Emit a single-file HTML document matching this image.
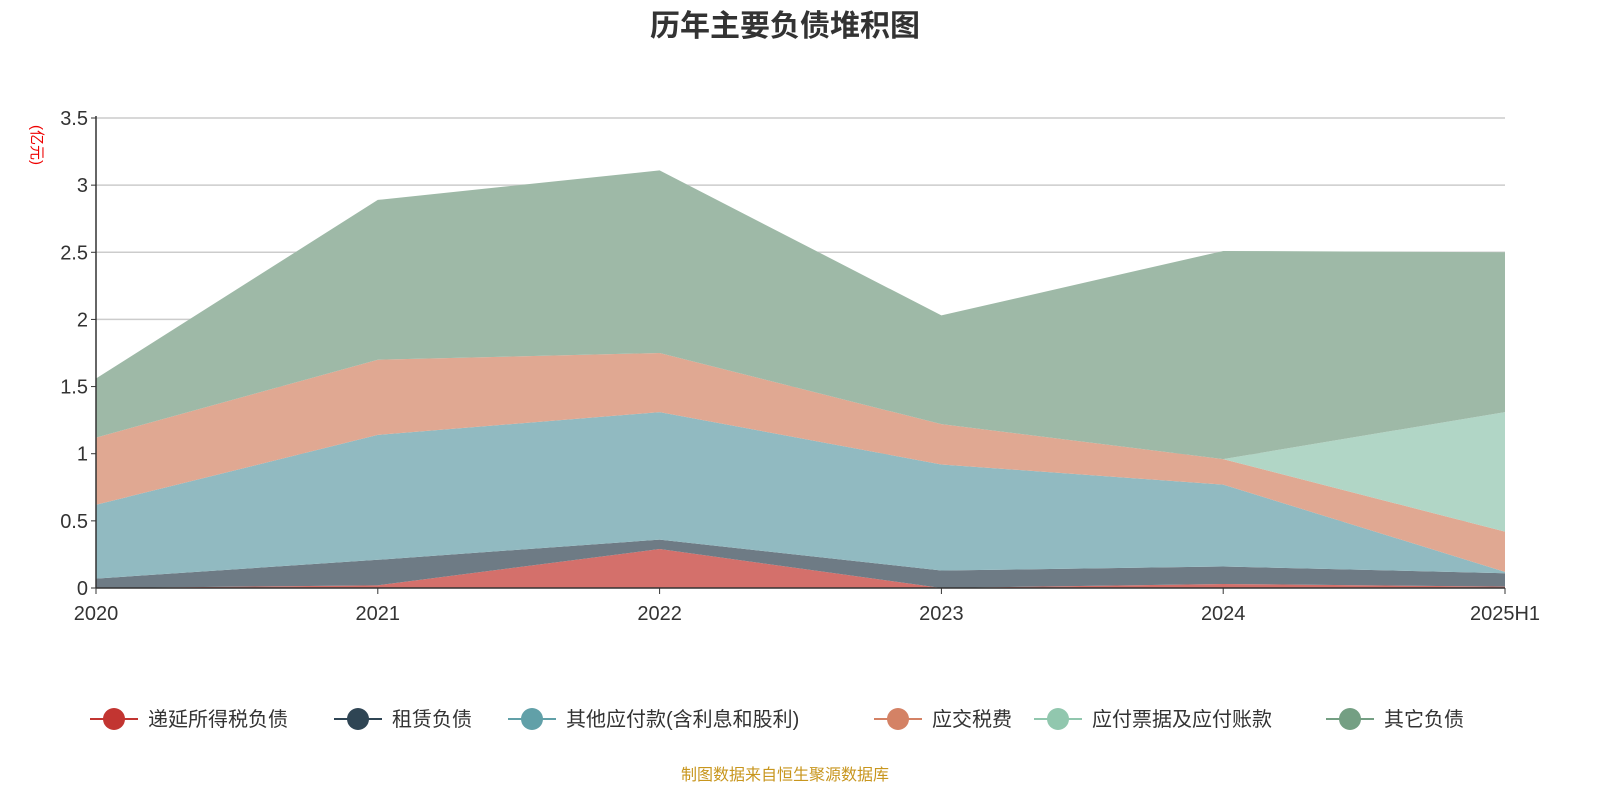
<!DOCTYPE html>
<html><head><meta charset="utf-8">
<style>
body{margin:0;background:#fff;font-family:"Liberation Sans","Noto Sans CJK SC",sans-serif;}
svg text{font-family:"Liberation Sans","Noto Sans CJK SC",sans-serif;}
</style></head>
<body>
<svg id="chart" width="1600" height="800">
<text x="785" y="36" text-anchor="middle" font-size="30" font-weight="bold" fill="#333">历年主要负债堆积图</text>
<text x="0" y="0" transform="translate(32,145) rotate(90)" text-anchor="middle" font-size="15" fill="#e00">(亿元)</text>
<g id="grid"></g><g id="areas"></g><g id="axes"></g><g id="legend"></g>
<text x="785" y="780" text-anchor="middle" font-size="16" fill="#c8961e">制图数据来自恒生聚源数据库</text>
</svg>
<script>
const categories=["2020","2021","2022","2023","2024","2025H1"];
const seriesNames=["递延所得税负债","租赁负债","其他应付款(含利息和股利)","应交税费","应付票据及应付账款","其它负债"];
const deferredTax=[0,0.02,0.29,0,0.03,0.01];
const leaseLiab=[0.07,0.19,0.07,0.13,0.13,0.10];
const otherPayables=[0.55,0.93,0.95,0.79,0.61,0.01];
const taxesPayable=[0.50,0.56,0.44,0.30,0.19,0.30];
const notesPayable=[0,0,0,0,0,0.89];
const otherLiab=[0.44,1.19,1.36,0.81,1.55,1.19];
const yTicks=[0,0.5,1,1.5,2,2.5,3,3.5];
const lineColors=["#c23531","#2f4554","#61a0a8","#d48265","#91c7ae","#749f83"];
const fillColors=["#d4706b","#6e7b85","#91bac1","#e0a892","#b1d6c6","#9eb9a7"];
const NS="http://www.w3.org/2000/svg";
const X0=96,X1=1505,Y0=588,Y1=118,YMAX=3.5;
const xs=i=>X0+(X1-X0)*i/(categories.length-1);
const ys=v=>Y0-(Y0-Y1)*v/YMAX;
function mk(tag,attrs,parent){const e=document.createElementNS(NS,tag);for(const k in attrs)e.setAttribute(k,attrs[k]);parent.appendChild(e);return e;}
const grid=document.getElementById('grid'),axes=document.getElementById('axes'),areas=document.getElementById('areas'),legend=document.getElementById('legend');
yTicks.forEach(t=>{
 if(t>0){const l=mk('line',{x1:X0,x2:X1,y1:ys(t),y2:ys(t),stroke:'#ccc','stroke-width':1.5},grid);
 
 }
 const tx=mk('text',{x:X0-8,y:ys(t)+7,'text-anchor':'end','font-size':20,fill:'#333'},axes);tx.textContent=t;
 
 
 mk('line',{x1:X0-5,x2:X0,y1:ys(t),y2:ys(t),stroke:'#333'},axes);
});
const data=[deferredTax,leaseLiab,otherPayables,taxesPayable,notesPayable,otherLiab];
let base=categories.map(()=>0);
data.forEach((s,k)=>{
 const top=base.map((b,i)=>b+s[i]);
 let d='M'+top.map((v,i)=>xs(i)+','+ys(v)).join(' L');
 for(let i=categories.length-1;i>=0;i--)d+=' L'+xs(i)+','+ys(base[i]);
 d+='Z';
 const p=mk('path',{d:d,fill:fillColors[k],stroke:'none'},areas);
 
 
 base=top;
});
mk('line',{x1:X0,x2:X0,y1:Y1-2,y2:Y0,stroke:'#333','stroke-width':1.5},axes);
mk('line',{x1:X0,x2:X1,y1:Y0,y2:Y0,stroke:'#333','stroke-width':1.5},axes);
categories.forEach((c,i)=>{
 mk('line',{x1:xs(i),x2:xs(i),y1:Y0,y2:Y0+6,stroke:'#333'},axes);
 const tx=mk('text',{x:xs(i),y:Y0+32,'text-anchor':i===categories.length-1?'middle':'middle','font-size':20,fill:'#333'},axes);
 tx.textContent=c;
 
 
});
const legX=[90,334,508,874,1034,1326];
seriesNames.forEach((n,k)=>{
 const g=mk('g',{},legend);
 
 
 const x=legX[k];
 mk('line',{x1:x,x2:x+48,y1:719,y2:719,stroke:lineColors[k],'stroke-width':2},g);
 mk('circle',{cx:x+24,cy:719,r:11,fill:lineColors[k]},g);
 const t=mk('text',{x:x+58,y:726,'font-size':20,fill:'#333'},g);t.textContent=n;
});
</script>
</body></html>
